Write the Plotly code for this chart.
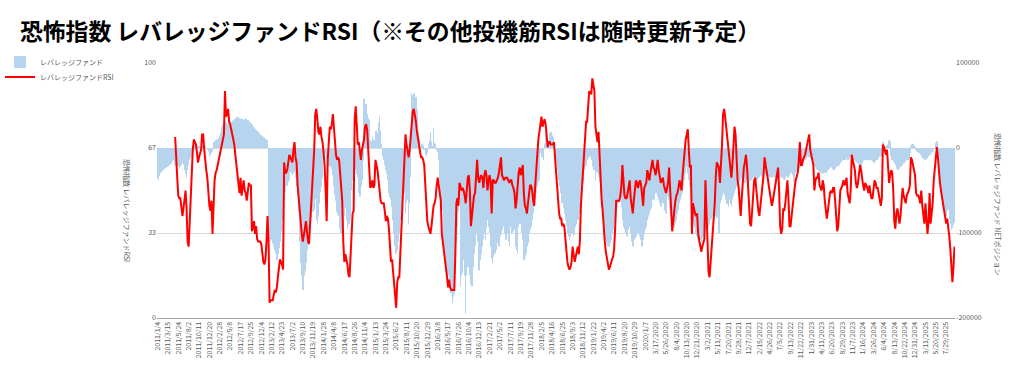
import plotly.graph_objects as go

title_text = "恐怖指数 レバレッジファンドRSI（※その他投機筋RSIは随時更新予定）"
bar_name = "レバレッジファンド"
line_name = "レバレッジファンドRSI"
left_title = "恐怖指数 レバレッジファンドRSI"
right_title = "恐怖指数 レバレッジファンド NETポジション"

tick_labels = [
    "2011/1/4", "2011/3/15", "2011/5/24", "2011/8/2", "2011/10/11", "2011/12/20",
    "2012/2/28", "2012/5/8", "2012/7/17", "2012/9/25", "2012/12/4",
    "2013/2/12", "2013/4/23", "2013/7/2", "2013/9/10", "2013/11/19",
    "2014/1/28", "2014/4/8", "2014/6/17", "2014/8/26", "2014/11/4",
    "2015/1/13", "2015/3/24", "2015/6/2", "2015/8/11", "2015/10/20", "2015/12/29",
    "2016/3/8", "2016/5/17", "2016/7/26", "2016/10/4", "2016/12/13",
    "2017/2/21", "2017/5/2", "2017/7/11", "2017/9/19", "2017/11/28",
    "2018/2/5", "2018/4/16", "2018/6/25", "2018/9/3", "2018/11/12",
    "2019/1/22", "2019/4/2", "2019/6/11", "2019/8/20", "2019/10/29",
    "2020/1/7", "3/17/2020", "5/26/2020", "8/4/2020", "10/13/2020", "12/21/2020",
    "3/2/2021", "5/11/2021", "7/20/2021", "9/28/2021", "12/7/2021",
    "2/15/2022", "4/26/2022", "7/5/2022", "9/13/2022", "11/22/2022",
    "1/31/2023", "4/11/2023", "6/20/2023", "8/29/2023", "11/7/2023",
    "1/16/2024", "3/26/2024", "6/4/2024", "8/13/2024", "10/22/2024", "12/31/2024",
    "3/11/2025", "5/20/2025", "7/29/2025",
]

# Weekly RSI (left axis, 0-100)
rsi = [
    None, None, None, None, None, None, None, None, None, None,
    None, None, None, None, None, None, None, 71, 65, 55,
    48, 47, 47, 44, 40, 43, 47, 50, 43, 30,
    28, 38, 49, 55, 66, 70, 69, 68, 65, 61,
    63, 65, 66, 72, 72, 66, 60, 58, 55, 48,
    44, 42, 46, 33, 48, 54, 57, 58, 60, 62,
    63, 65, 67, 69, 72, 89, 79, 80, 82, 77,
    76, 74, 72, 70, 68, 64, 60, 55, 52, 49,
    55, 48, 51, 54, 50, 49, 46, 50, 53, 52,
    52, 34, 36, 38, 33, 36, 31, 30, 30, 30,
    29, 24, 22, 21, 23, 30, 40, 30, 6, 7,
    7, 7, 9, 11, 10, 12, 16, 19, 23, 22,
    21, 19, 61, 57, 57, 58, 62, 64, 63, 62,
    61, 66, 69, 63, 61, 52, 47, 42, 36, 33,
    30, 32, 35, 38, 34, 30, 29, 36, 43, 55,
    62, 66, 80, 82, 78, 73, 72, 75, 71, 69,
    65, 60, 50, 38, 62, 70, 75, 74, 76, 80,
    75, 68, 64, 62, 63, 62, 56, 52, 46, 30,
    22, 25, 23, 21, 17, 16, 24, 35, 41, 42,
    78, 83, 72, 68, 69, 65, 62, 66, 68, 70,
    75, 76, 74, 65, 55, 51, 52, 54, 51, 52,
    62, 60, 58, 54, 50, 46, 45, 45, 45, 42,
    38, 40, 39, 35, 25, 22, 23, 18, 12, 6,
    4, 14, 16, 16, 25, 36, 44, 55, 63, 72,
    68, 66, 63, 66, 71, 78, 81, 82, 80, 77,
    73, 71, 68, 65, 63, 63, 62, 60, 52, 47,
    38, 36, 34, 33, 36, 40, 44, 45, 47, 52,
    55, 52, 48, 46, 33, 30, 27, 24, 21, 16,
    12, 15, 12, 11, 11, 11, 11, 25, 45, 47,
    44, 53, 51, 50, 51, 50, 48, 45, 50, 55,
    56, 50, 36, 40, 46, 48, 49, 56, 62, 55,
    53, 55, 56, 55, 51, 56, 58, 56, 50, 54,
    56, 53, 41, 54, 54, 53, 53, 54, 55, 57,
    60, 63, 56, 55, 54, 55, 55, 55, 54, 53,
    54, 54, 52, 51, 49, 43, 46, 52, 57, 59,
    56, 58, 60, 49, 44, 43, 41, 45, 48, 52,
    52, 50, 46, 44, 52, 59, 65, 70, 73, 77,
    79, 75, 77, 78, 76, 72, 67, 69, 69, 68,
    68, 68, 69, 63, 58, 53, 49, 41, 39, 39,
    36, 37, 36, 30, 27, 22, 20, 19, 20, 22,
    28, 25, 22, 24, 27, 28, 25, 30, 44, 50,
    58, 66, 72, 77, 77, 82, 89, 88, 88, 94,
    91, 89, 75, 72, 69, 73, 62, 52, 46, 42,
    35, 30, 26, 23, 21, 19, 20, 22, 23, 24,
    27, 35, 46, 46, 46, 46, 48, 52, 60, 52,
    48, 47, 47, 49, 52, 54, 47, 43, 41, 46,
    50, 54, 53, 51, 53, 54, 52, 48, 44, 51,
    52, 53, 58, 56, 54, 57, 59, 62, 59, 58,
    56, 59, 62, 58, 55, 53, 54, 55, 52, 50,
    49, 51, 53, 59, 52, 44, 34, 38, 44, 46,
    48, 49, 51, 54, 52, 50, 56, 61, 67, 70,
    72, 74, 66, 59, 60, 33, 45, 42, 41, 40,
    41, 33, 30, 27, 26, 28, 30, 31, 54, 40,
    30, 18, 16, 22, 28, 36, 40, 45, 56, 61,
    60, 59, 53, 60, 68, 80, 82, 79, 75, 70,
    67, 62, 58, 55, 60, 68, 75, 72, 62, 54,
    51, 44, 40, 47, 55, 59, 61, 64, 60, 52,
    45, 37, 36, 43, 50, 54, 55, 50, 45, 42,
    40, 45, 48, 52, 56, 63, 60, 58, 55, 52,
    49, 45, 44, 46, 49, 51, 53, 56, 59, 50,
    36, 33, 35, 43, 42, 45, 50, 54, 47, 36,
    36, 40, 45, 48, 51, 54, 56, 57, 62, 69,
    60, 60, 62, 63, 64, 66, 68, 71, 72, 66,
    63, 62, 60, 50, 54, 55, 55, 57, 52, 51,
    50, 54, 52, 46, 42, 39, 42, 47, 49, 50,
    49, 51, 51, 46, 41, 34, 36, 42, 50, 51,
    52, 54, 52, 53, 55, 49, 46, 45, 50, 64,
    62, 60, 58, 53, 51, 53, 56, 60, 58, 54,
    52, 50, 53, 52, 51, 49, 52, 49, 47, 47,
    51, 54, 53, 51, 51, 49, 46, 44, 47, 68,
    67, 65, 64, 66, 60, 53, 56, 58, 57, 50,
    38, 35, 41, 43, 40, 37, 40, 45, 51, 48,
    46, 45, 48, 49, 50, 52, 63, 62, 60, 58,
    56, 49, 48, 48, 47, 45, 50, 44, 39, 37,
    45, 36, 33, 38, 49, 37, 40, 45, 54, 59,
    65, 67, 63, 57, 53, 50, 47, 44, 41, 38,
    37, 39, 36, 32, 27, 17, 14, 20, 28,
]

# Weekly net position of leveraged funds (right axis)
fund = [
    -36000, -38000, -33000, -30000, -28000, -27000, -26000, -24000, -23000, -22000,
    -22000, -20000, -18000, -19000, -16000, -14000, -12000, -20000, -22000, -21000,
    -22000, -24000, -22000, -20000, -18000, -20000, -26000, -30000, -34000, -26000,
    -20000, -14000, -12000, -9000, -5000, -2000, 2000, 2000, 1000, 2000,
    3000, -1000, 1000, 2000, 3000, 4000, 2000, 0, -2000, -4000,
    -10000, -8000, -6000, -4000, 7000, 8000, 9000, 10000, 10000, 12000,
    15000, 18000, 25000, 27000, 28000, 32000, 30000, 29000, 28000, 29000,
    30000, 31000, 32000, 33000, 34000, 35000, 36000, 37000, 36000, 35000,
    34000, 35000, 34000, 33000, 34000, 35000, 34000, 33000, 31000, 30000,
    29000, 27000, 25000, 24000, 22000, 21000, 20000, 19000, 17000, 16000,
    15000, 14000, 13000, 12000, 11000, 10000, 9000, -105000, -108000, -110000,
    -108000, -112000, -116000, -120000, -124000, -132000, -125000, -118000, -110000, -98000,
    -85000, -70000, -61000, -52000, -45000, -44000, -40000, -38000, -28000, -30000,
    -32000, -30000, -28000, -34000, -45000, -55000, -75000, -110000, -135000, -150000,
    -167000, -150000, -145000, -135000, -120000, -110000, -103000, -95000, -82000, -70000,
    -75000, -73000, -60000, -85000, -89000, -81000, -65000, -52000, -45000, -35000,
    -14000, -8000, -6000, -12000, -18000, -20000, -22000, -18000, -25000, -32000,
    -45000, -55000, -62000, -75000, -78000, -80000, -95000, -100000, -103000, -88000,
    -80000, -70000, -85000, -96000, -90000, -89000, -85000, -50000, -38000, -30000,
    -26000, -25000, -30000, -34000, -53000, -57000, -45000, -38000, -15000, 58000,
    45000, 52000, 40000, 35000, 33000, 10000, 8000, 13000, 10000, 9000,
    20000, 21000, 18000, 30000, 37000, 21000, 5000, -10000, -14000, -20000,
    -26000, -30000, -38000, -53000, -58000, -61000, -69000, -85000, -100000, -115000,
    -124000, -120000, -110000, -100000, -85000, -75000, -61000, -55000, -53000, -77000,
    -65000, -61000, -90000, -65000, -34000, 64000, 62000, 64000, 58000, 60000,
    45000, 20000, 10000, 2000, 1000, 5000, 3000, -2000, -8000, -10000,
    -6000, 5000, 9000, 19000, 8000, 2000, 23000, 6000, 5000, -2000,
    -5000, -14000, -40000, -53000, -70000, -73000, -112000, -120000, -132000, -151000,
    -148000, -150000, -160000, -171000, -183000, -175000, -171000, -132000, -110000, -93000,
    -75000, -61000, -163000, -150000, -147000, -132000, -150000, -195000, -150000, -140000,
    -132000, -150000, -160000, -163000, -140000, -124000, -115000, -100000, -81000, -110000,
    -144000, -132000, -125000, -116000, -108000, -100000, -108000, -95000, -85000, -93000,
    -100000, -116000, -130000, -136000, -128000, -124000, -120000, -108000, -112000, -116000,
    -104000, -100000, -96000, -92000, -89000, -100000, -108000, -100000, -110000, -116000,
    -93000, -100000, -100000, -98000, -96000, -116000, -120000, -124000, -93000, -89000,
    -89000, -100000, -108000, -132000, -128000, -124000, -116000, -112000, -100000, -96000,
    -93000, -85000, -77000, -69000, -61000, -53000, -45000, -40000, -38000, -6000,
    -10000, -12000, -14000, 5000, 17000, 12000, 9000, 5000, 17000, 19000,
    15000, 13000, 5000, -2000, -10000, -18000, -26000, -38000, -45000, -53000,
    -65000, -70000, -77000, -85000, -92000, -100000, -104000, -108000, -104000, -100000,
    -100000, -104000, -102000, -93000, -90000, -85000, -77000, -75000, -69000, -50000,
    -40000, -26000, -22000, -20000, -14000, -12000, -10000, -11000, -14000, -22000,
    -26000, -26000, -38000, -28000, -30000, -34000, -40000, -53000, -65000, -69000,
    -93000, -100000, -108000, -112000, -116000, -116000, -112000, -108000, -100000, -96000,
    -89000, -81000, -77000, -69000, -65000, -61000, -53000, -70000, -85000, -93000,
    -96000, -100000, -104000, -104000, -96000, -93000, -100000, -110000, -116000, -108000,
    -106000, -104000, -100000, -93000, -100000, -104000, -108000, -116000, -108000, -100000,
    -96000, -93000, -85000, -81000, -77000, -73000, -70000, -61000, -61000, -61000,
    -53000, -53000, -57000, -61000, -65000, -69000, -65000, -61000, -65000, -73000,
    -77000, -53000, -57000, -61000, -73000, -81000, -85000, -89000, -93000, -89000,
    -85000, -77000, -73000, -65000, -61000, -57000, -53000, -45000, -38000, -30000,
    -22000, -30000, -38000, -45000, -53000, -69000, -81000, -89000, -93000, -100000,
    -104000, -108000, -112000, -108000, -110000, -106000, -104000, -100000, -98000, -97000,
    -96000, -93000, -90000, -85000, -83000, -80000, -78000, -77000, -80000, -82000,
    -81000, -100000, -65000, -61000, -57000, -53000, -50000, -55000, -61000, -66000,
    -69000, -61000, -66000, -69000, -61000, -57000, -53000, -49000, -45000, -45000,
    -42000, -40000, -38000, -36000, -40000, -42000, -41000, -38000, -36000, -38000,
    -40000, -37000, -38000, -36000, -34000, -34000, -36000, -38000, -37000, -36000,
    -34000, -32000, -34000, -33000, -30000, -29000, -31000, -33000, -34000, -33000,
    -34000, -35000, -34000, -32000, -34000, -35000, -33000, -34000, -35000, -36000,
    -34000, -33000, -35000, -37000, -38000, -36000, -33000, -34000, -35000, -32000,
    -30000, -29000, -32000, -40000, -42000, -30000, -27000, -26000, -24000, -22000,
    -22000, -18000, -16000, -14000, -14000, -12000, -10000, -10000, -11000, -12000,
    -14000, -16000, -18000, -22000, -23000, -25000, -26000, -27000, -28000, -29000,
    -30000, -30000, -30000, -29000, -29000, -27000, -26000, -24000, -23000, -22000,
    -23000, -25000, -26000, -24000, -22000, -21000, -22000, -20000, -18000, -16000,
    -15000, -14000, -14000, -14000, -12000, -14000, -14000, -12000, -10000, -11000,
    -13000, -14000, -14000, -16000, -17000, -18000, -20000, -20000, -22000, -18000,
    -15000, -14000, -14000, -14000, -15000, -14000, -14000, -15000, -14000, -16000,
    -17000, -18000, -16000, -14000, -14000, -12000, -10000, -10000, -8000, 7000,
    2000, -2000, 2000, 3000, 4000, 9000, 8000, -10000, -14000, -16000,
    -18000, -20000, -24000, -26000, -26000, -24000, -22000, -22000, -20000, -18000,
    -18000, -16000, -15000, -14000, -12000, -6000, 2000, 4000, 5000, 3000,
    1000, -2000, -4000, -5000, -6000, -8000, -10000, -12000, -13000, -14000,
    -14000, -13000, -12000, -10000, -9000, -8000, -6000, -5000, -4000, 0,
    6000, 8000, -14000, -30000, -40000, -45000, -52000, -60000, -68000, -72000,
    -80000, -74000, -72000, -84000, -90000, -96000, -94000, -90000, -88000,
]

left_ticks = [0, 100 / 3, 200 / 3, 100]
left_ticktext = ["0", "33", "67", "100"]
right_ticks = [-200000, -100000, 0, 100000]

FONT = "Noto Sans CJK JP"
GRAY = "#595959"

weeks_bar = list(range(len(fund)))
weeks_line = list(range(len(rsi)))
tick_positions = list(range(0, len(fund), 10))[:len(tick_labels)]

L, R, T, B = 157, 69, 63, 62
pw = 1024 - L - R
ph = 380 - T - B


def px_x(x):
    return (x - L) / pw


def px_y(y):
    return (380 - B - y) / ph


fig = go.Figure()
fig.add_trace(go.Bar(
    x=weeks_bar, y=fund, name=bar_name,
    marker=dict(color="#B7D4EE", line=dict(width=0)),
    yaxis="y", legend="legend",
))
fig.add_trace(go.Scatter(
    x=weeks_line, y=rsi, name=line_name, mode="lines",
    line=dict(color="#FF0000", width=2),
    yaxis="y2", legend="legend2",
))

legend_common = dict(
    xanchor="left", yanchor="middle", bgcolor="rgba(0,0,0,0)",
    font=dict(size=7, color=GRAY), itemwidth=30,
    borderwidth=0, tracegroupgap=0,
)

fig.update_layout(
    width=1024, height=380,
    margin=dict(l=L, r=R, t=T, b=B, autoexpand=False),
    paper_bgcolor="white", plot_bgcolor="white",
    font=dict(family=FONT, size=7, color=GRAY),
    bargap=0.55,
    showlegend=True,
    legend=dict(x=px_x(0), y=px_y(62), **legend_common),
    legend2=dict(x=px_x(0), y=px_y(77), **legend_common),
    title=dict(
        text=title_text, xref="container", yref="container",
        x=20 / 1024, y=1 - 32 / 380, xanchor="left", yanchor="middle",
        font=dict(family=FONT, size=22.8, color="#000000", weight="bold"),
    ),
    xaxis=dict(
        range=[-0.5, len(fund) - 0.5],
        tickmode="array", tickvals=tick_positions, ticktext=tick_labels,
        tickangle=-90, tickfont=dict(size=7, color=GRAY),
        showgrid=False, zeroline=False,
        showline=True, linecolor="#A6A6A6", linewidth=1, ticks="",
    ),
    yaxis=dict(
        side="right", range=[-200000, 100000],
        tickmode="array", tickvals=right_ticks,
        ticktext=[str(v) for v in right_ticks],
        tickfont=dict(size=7, color=GRAY),
        showgrid=True, gridcolor="#D9D9D9", gridwidth=1,
        zeroline=False, showline=False, ticks="",
    ),
    yaxis2=dict(
        overlaying="y", side="left", range=[0, 100],
        tickmode="array", tickvals=left_ticks, ticktext=left_ticktext,
        tickfont=dict(size=7, color=GRAY),
        showgrid=False, zeroline=False, showline=False, ticks="",
    ),
    annotations=[
        dict(text=left_title, textangle=90, xref="paper", yref="paper",
             x=px_x(127), y=px_y(210),
             xanchor="center", yanchor="middle", showarrow=False,
             font=dict(size=7, color=GRAY)),
        dict(text=right_title, textangle=90, xref="paper", yref="paper",
             x=px_x(998), y=px_y(205),
             xanchor="center", yanchor="middle", showarrow=False,
             font=dict(size=7, color=GRAY)),
    ],
)

fig.write_html(
    "out.html",
    config={"displayModeBar": False},
    post_script="document.body.style.margin='0px';document.body.style.overflow='hidden';",
)
